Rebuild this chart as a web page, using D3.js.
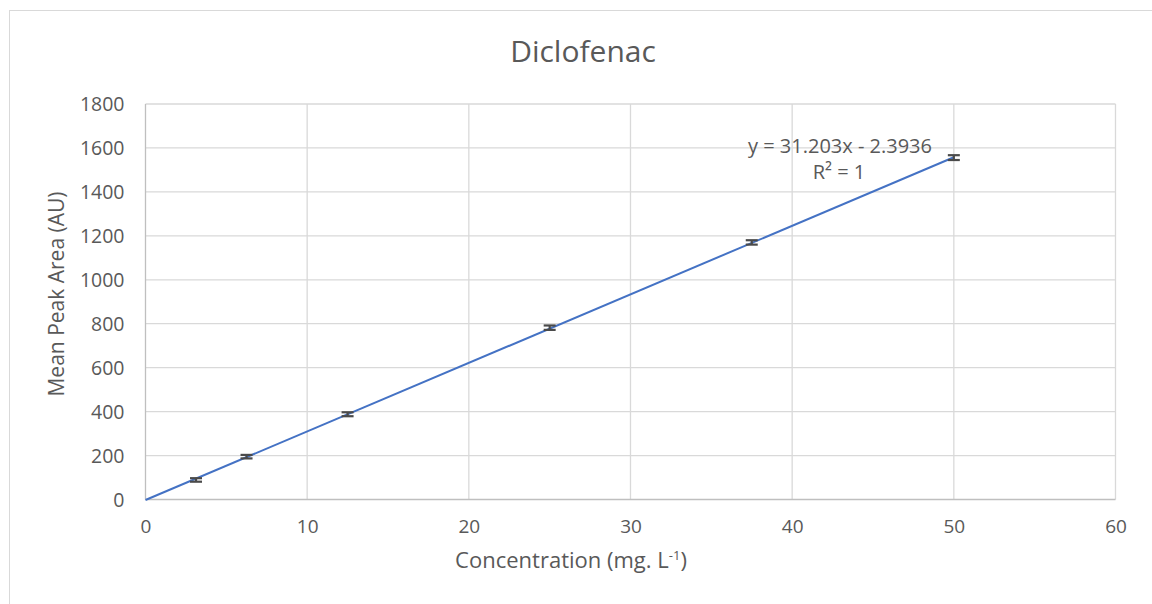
<!DOCTYPE html>
<html><head><meta charset="utf-8">
<script src="https://cdn.jsdelivr.net/npm/d3@7"></script>
<style>body{margin:0;background:#fff}svg{display:block}text{font-family:"Open Sans",sans-serif;fill:#595959}</style>
</head><body><svg width="1152" height="604"></svg>
<script>
const concentrations = [3.125, 6.25, 12.5, 25, 37.5, 50];
const meanPeakArea = [89, 195, 388, 782, 1170, 1556];
const errorValues = [8, 8, 9, 10, 10, 11];
const xTicks = [0, 10, 20, 30, 40, 50, 60];
const yTicks = [0, 200, 400, 600, 800, 1000, 1200, 1400, 1600, 1800];
const slope = 31.203, intercept = -2.3936;

const svg = d3.select("svg");
svg.append("rect").attr("x",9.5).attr("y",10.5).attr("width",1160).attr("height",620).attr("fill","#fff").attr("stroke","#d9d9d9");
const x = d3.scaleLinear().domain([0,60]).range([145.5,1115.5]);
const y = d3.scaleLinear().domain([0,1800]).range([499.5,104]);

const g = svg.append("g");
g.selectAll(".gx").data(xTicks.slice(1)).join("line").attr("x1",d=>x(d)).attr("x2",d=>x(d)).attr("y1",y(0)).attr("y2",y(1800)).attr("stroke","#d9d9d9").attr("stroke-width",1.3);
g.selectAll(".gy").data(yTicks.slice(1)).join("line").attr("y1",d=>y(d)).attr("y2",d=>y(d)).attr("x1",x(0)).attr("x2",x(60)).attr("stroke","#d9d9d9").attr("stroke-width",1.3);
g.append("line").attr("x1",x(0)).attr("x2",x(60)).attr("y1",y(0)).attr("y2",y(0)).attr("stroke","#bfbfbf").attr("stroke-width",1.3);
g.append("line").attr("x1",x(0)).attr("x2",x(0)).attr("y1",y(0)).attr("y2",y(1800)).attr("stroke","#bfbfbf").attr("stroke-width",1.3);

const xAxis = d3.axisBottom(x).tickValues(xTicks).tickFormat(d3.format("d")).tickSize(0).tickPadding(22);
svg.append("g").attr("transform",`translate(0,${y(0)})`).call(xAxis).call(a=>{a.select(".domain").remove();a.selectAll("text").attr("font-size",19).attr("fill","#595959").attr("dy","0.6em");});
const yAxis = d3.axisLeft(y).tickValues(yTicks).tickFormat(d3.format("d")).tickSize(0).tickPadding(21);
svg.append("g").attr("transform",`translate(${x(0)},0)`).call(yAxis).call(a=>{a.select(".domain").remove();a.selectAll("text").attr("font-size",19.5).attr("fill","#595959").attr("dy","0.35em");});

// trendline
svg.append("line").attr("x1",x(0)).attr("y1",y(intercept)).attr("x2",x(50)).attr("y2",y(slope*50+intercept)).attr("stroke","#4472c4").attr("stroke-width",2);

// error bars
const eb = svg.append("g").attr("stroke","#4a4a4a").attr("stroke-width",2.2);
concentrations.forEach((c,i)=>{
  const v = meanPeakArea[i], e = errorValues[i];
  eb.append("line").attr("x1",x(c)).attr("x2",x(c)).attr("y1",y(v-e)).attr("y2",y(v+e));
  [v-e,v+e].forEach(t=>eb.append("line").attr("x1",x(c)-6).attr("x2",x(c)+6).attr("y1",y(t)).attr("y2",y(t)));
});

svg.append("text").attr("x",583).attr("y",62).attr("text-anchor","middle").attr("font-size",30).text("Diclofenac");
svg.append("text").attr("x",840).attr("y",153).attr("text-anchor","middle").attr("font-size",20).text("y = 31.203x - 2.3936");
svg.append("text").attr("x",839).attr("y",179).attr("text-anchor","middle").attr("font-size",20).text("R² = 1");
const xt = svg.append("text").attr("x",571).attr("y",568).attr("text-anchor","middle").attr("font-size",22);
xt.append("tspan").text("Concentration (mg. L");
xt.append("tspan").attr("dy",-8).attr("font-size",13).text("-1");
xt.append("tspan").attr("dy",8).text(")");
svg.append("text").attr("transform","translate(64,294) rotate(-90)").attr("text-anchor","middle").attr("font-size",21).text("Mean Peak Area (AU)");
</script></body></html>
